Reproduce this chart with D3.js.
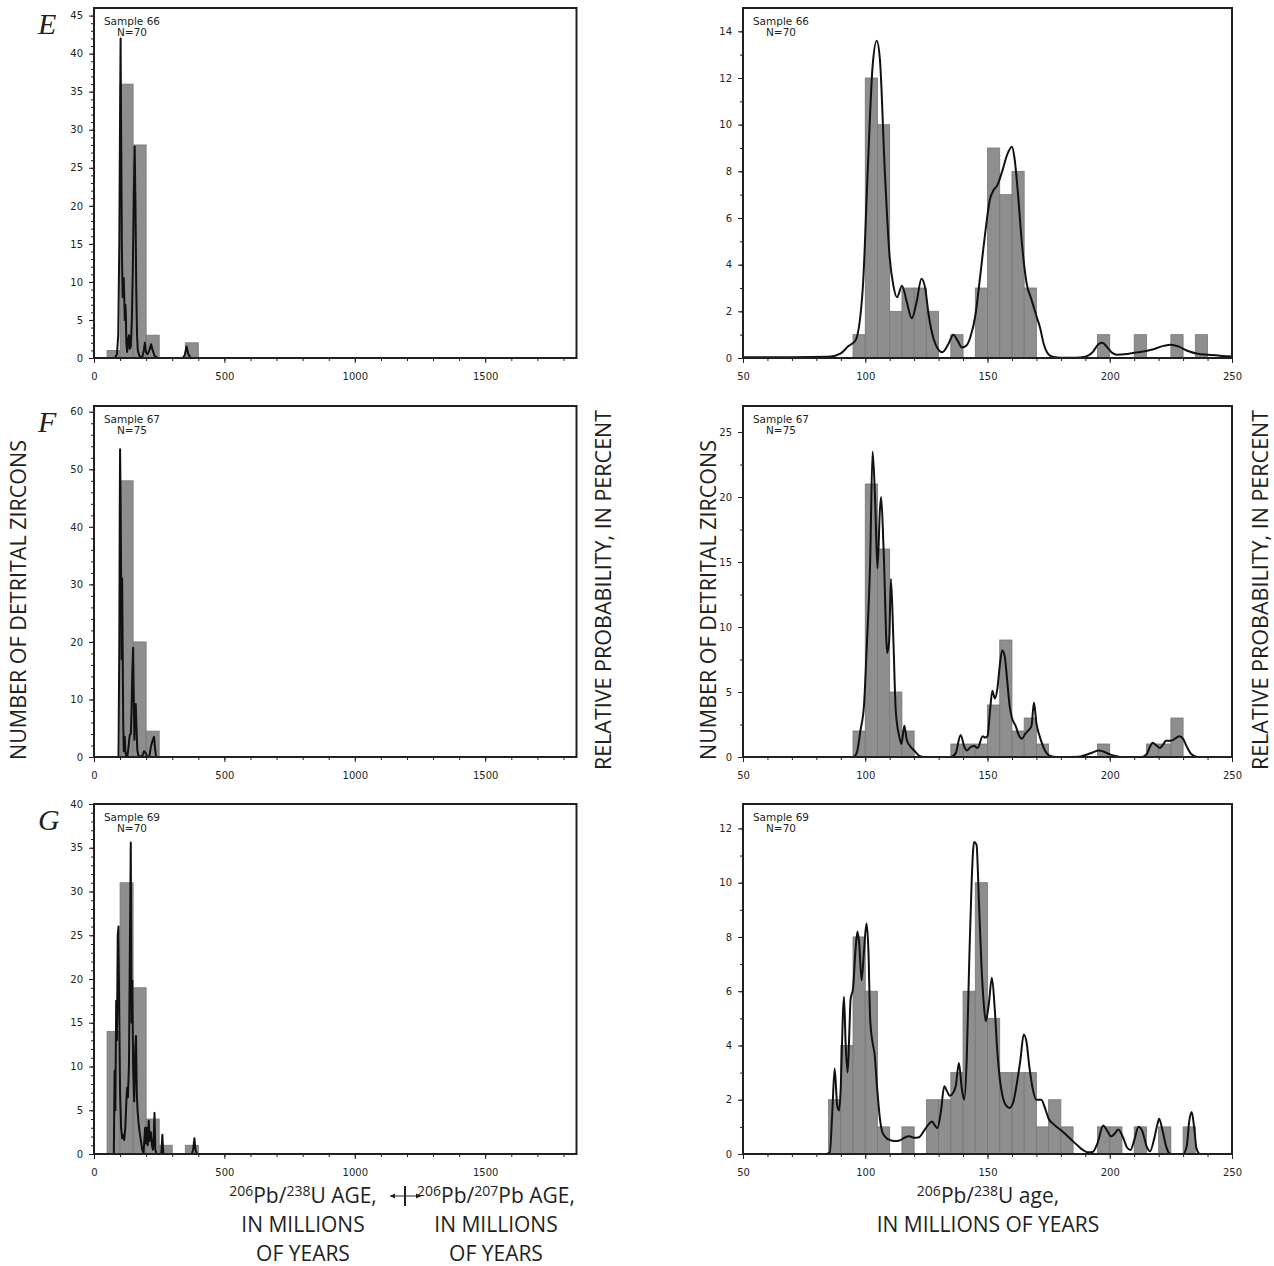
<!DOCTYPE html>
<html>
<head>
<meta charset="utf-8">
<script src="https://cdn.jsdelivr.net/npm/d3@7"></script>
<style>
  body { margin: 0; background: #fff; }
  svg { display: block; }
  .tick text { font-family: "DejaVu Sans", sans-serif; font-size: 10px; fill: #231f20; }
  .tick line { stroke: #231f20; }
  .title { font-family: "Open Sans", sans-serif; fill: #231f20; }
</style>
</head>
<body>
<svg id="chart" width="1274" height="1266"></svg>
<script>
// ---- labels ----
const panelLetters = ['E', 'F', 'G'];
const sampleNames = ['Sample 66', 'Sample 67', 'Sample 69'];
const sampleCounts = ['N=70', 'N=75', 'N=70'];

// ---- left column: 0-1850 Ma, 50 Myr bins ----
const leftBinWidth = 50;
const leftBinStartsE = [50, 100, 150, 200, 350];
const leftCountsE = [1, 36, 28, 3, 2];
const leftBinStartsF = [100, 150, 200];
const leftCountsF = [48, 20, 4.5];
const leftBinStartsG = [50, 100, 150, 200, 250, 350];
const leftCountsG = [14, 31, 19, 4, 1, 1];

// probability curves (age, value on the count axis)
const leftCurveE = [[0,0],[80,0],[88,0.5],[93,3],[97,15],[100,32],[102,42],[104,30],[107,14],[110,8],[112,9.5],[114,10.5],[116,8],[118,5],[120,7],[122,6],[124,2],[127,0.8],[131,2.5],[134,3],[137,1.2],[141,1.5],[145,5],[149,12],[153,22],[156,27.8],[159,20],[162,9],[165,3],[168,1],[175,0.2],[185,0.1],[191,1],[195,2],[199,0.8],[205,0.5],[212,1],[219,1.8],[225,1],[232,0.3],[245,0],[340,0],[348,0.4],[355,1.5],[361,0.6],[370,0],[1850,0]];
const leftCurveF = [[0,0],[94,0],[97,20],[99,45],[100,53.5],[102,45],[104,31],[106,17],[108,31],[110,18],[112,6],[114,1],[116,2.5],[118,3.5],[120,1],[123,0.3],[128,0.1],[133,2],[137,3.8],[141,4],[144,8],[147,15],[150,19],[152,12],[155,3],[157,9],[160,9.2],[163,5],[166,1.2],[170,0.3],[178,0],[186,0.3],[192,1],[197,0.8],[203,0.1],[212,0],[217,1.5],[222,2.5],[226,3],[230,3.5],[234,1.5],[238,0],[1850,0]];
const leftCurveG = [[0,0],[76,0],[79,9.5],[82,5],[85,17.5],[88,13],[91,25],[94,26],[97,15],[100,7],[104,3],[108,1.8],[112,2.2],[116,1.6],[120,3],[124,6],[127,7.6],[130,6.5],[134,10],[138,25],[141,35.6],[144,15],[147,19.8],[150,10],[154,6],[158,12],[161,13.5],[164,7],[167,5],[171,3.5],[175,2.5],[180,1.5],[185,0.5],[190,0.1],[196,3],[199,1.2],[203,3],[206,1],[210,3.8],[213,1.5],[218,2.5],[222,1],[226,0.5],[229,2],[232,4.7],[235,0.5],[240,0],[258,0],[262,2.2],[266,0],[375,0],[380,0.5],[385,1.8],[389,0.5],[394,0],[1850,0]];

// ---- right column: 50-250 Ma, 5 Myr bins ----
const rightBinWidth = 5;
const rightBinStartsE = [95,100,105,110,115,120,125,135,145,150,155,160,165,195,210,225,235];
const rightCountsE = [1,12,10,2,3,3,2,1,3,9,7,8,3,1,1,1,1];
const rightBinStartsF = [95,100,105,110,115,135,140,145,150,155,160,165,170,195,215,220,225];
const rightCountsF = [2,21,16,5,2,1,1,1,4,9,2,3,1,1,1,1,3];
const rightBinStartsG = [85,90,95,100,105,115,125,130,135,140,145,150,155,160,165,170,175,180,195,200,210,220,230];
const rightCountsG = [2,4,8,6,1,1,2,2,3,6,10,5,3,3,3,1,2,1,1,1,1,1,1];

const rightCurveE = [[50,0.03],[70,0.03],[85,0.05],[90,0.2],[93,0.5],[96,0.75],[99,3],[101,8],[103,12.5],[104.7,13.6],[106,12.8],[108,8],[110,4.3],[111.5,3.1],[113,2.6],[115,3.1],[117,2.4],[119,1.7],[121,2.4],[123,3.4],[124.5,3],[126,1.8],[128,0.8],[130,0.35],[131.5,0.25],[134,0.6],[136,1],[138,0.7],[139.5,0.45],[141.5,0.55],[143,0.9],[145,1.8],[147,3.5],[149,5.3],[151,6.8],[152.5,7.2],[154,7.4],[156,8],[158,8.7],[160,9.05],[161,8.6],[162.5,7],[164,5],[166,3.2],[168,2.5],[170,1.8],[171.5,1.3],[173,0.6],[175,0.15],[177,0.04],[180,0.01],[186,0.01],[190,0.05],[193,0.25],[195.5,0.6],[197,0.65],[199,0.45],[201,0.22],[203,0.14],[207,0.17],[212,0.25],[217,0.35],[222,0.52],[225,0.57],[228,0.5],[232,0.3],[236,0.18],[240,0.14],[245,0.1],[250,0.06]];
const rightCurveF = [[50,0],[95,0],[96.5,0.3],[98,2],[99.5,4],[100.5,8],[102,15],[103,23.5],[104,20],[105,14.5],[106,19],[106.5,20],[107.5,16],[109,8],[109.8,9],[110.5,13.7],[111.5,9],[112.5,3.5],[114,1.5],[114.8,1],[116,2.4],[117,1.3],[118.5,0.8],[120,0.5],[122,0.1],[124,0],[135,0],[137,0.3],[139,1.7],[140.5,0.8],[141.5,0.5],[143,0.75],[144.5,0.85],[146,0.7],[148,1.6],[149,1.5],[150,1.6],[151,3.5],[152,5.1],[153,4.5],[154,5.2],[155,7],[156,8.2],[157,7.8],[158,6],[159,4],[160,3],[161.5,2.4],[163,1.6],[164,1.4],[165.5,1.8],[167,2.1],[168,2.4],[169,4.2],[170,2.6],[171,1.8],[172,1.2],[173.5,0.5],[175,0.15],[177,0.02],[180,0],[187,0.02],[190,0.15],[193,0.35],[195.5,0.5],[198,0.38],[200,0.2],[203,0.05],[205,0],[213,0],[215,0.2],[216.5,0.8],[217.5,1.1],[219,0.9],[220.5,0.7],[222,1],[223,1.25],[225,1.25],[227,1.45],[228.5,1.6],[230,1.4],[231.5,0.8],[233,0.3],[235,0.05],[237,0],[250,0]];
const rightCurveG = [[50,0],[84,0],[85.5,0.05],[86.5,1.5],[87.5,3.15],[88.5,1.8],[89.3,1.6],[90,2.5],[90.8,5],[91.3,5.8],[92,4],[92.8,3],[93.5,4.5],[94,5.7],[95,6.1],[96,7.5],[96.8,8.2],[97.5,7.8],[98.5,6.4],[99.5,7.5],[100.5,8.5],[101.3,7.5],[102,5],[103,4.1],[103.8,3.7],[104.8,2.5],[106,1.3],[107,0.8],[108.5,0.6],[110,0.52],[112,0.48],[114,0.5],[116,0.6],[118,0.65],[120,0.6],[122,0.62],[124,0.85],[126,1.1],[127.3,1.2],[128.5,1.05],[129.5,0.95],[131,1.6],[132.3,2.5],[133.5,2.3],[134.5,2.15],[135.5,2.2],[137,2.5],[138.3,3.35],[139.5,2.4],[140.5,2],[141.5,3.5],[142.5,7],[143.5,10],[144.5,11.5],[145.5,11.4],[146.5,9.3],[147.5,7],[148.5,5.5],[149.3,4.9],[150.5,5.5],[151.8,6.5],[153,5.3],[154,3.8],[155,2.8],[156,2.2],[157.5,1.8],[159,1.7],[160.5,1.9],[162,2.6],[163.5,3.5],[164.8,4.4],[166,4.1],[167,3.3],[168.5,2.4],[170,2],[172,2],[173.5,1.7],[175,1.3],[177,1.1],[179,0.95],[181,0.8],[184,0.55],[187,0.3],[189,0.15],[191,0.06],[193,0.07],[195,0.4],[197.3,1.05],[199,0.85],[200.5,0.65],[202,0.75],[203.5,0.9],[205.5,0.6],[207,0.25],[208.5,0.15],[210,0.5],[211.8,1],[213.5,0.8],[215,0.3],[216.5,0.1],[218,0.5],[219.5,1.1],[220.2,1.3],[221.5,0.9],[223,0.3],[224.5,0.02],[226,0],[230,0],[231.5,0.3],[232.5,1.2],[233.5,1.55],[234.5,1],[235.5,0.2],[237,0],[250,0]];

// ---- axis ticks ----
const leftXMajor = [0, 500, 1000, 1500];
const rightXMajor = [50, 100, 150, 200, 250];
const leftYMajor = [d3.range(0, 46, 5), d3.range(0, 61, 10), d3.range(0, 41, 5)];
const rightYMajor = [d3.range(0, 15, 2), d3.range(0, 26, 5), d3.range(0, 13, 2)];

const svg = d3.select('#chart');
const ink = '#231f20';

const rowTop = [8, 406, 804];
const rowBottom = [358, 757, 1154];

function zip(starts, counts) {
  return starts.map((s, i) => ({start: s, count: counts[i]}));
}

function drawPanel(p) {
  const g = svg.append('g');
  const x = d3.scaleLinear().domain(p.xDomain).range([p.x0, p.x1]);
  const y = d3.scaleLinear().domain(p.yDomain).range([p.y1, p.y0]);

  g.selectAll('rect.bar').data(p.bins).join('rect')
    .attr('class', 'bar')
    .attr('x', d => x(d.start))
    .attr('width', d => x(d.start + p.binWidth) - x(d.start))
    .attr('y', d => y(d.count))
    .attr('height', d => y(0) - y(d.count))
    .attr('fill', '#8e8e8e')
    .attr('stroke', '#777')
    .attr('stroke-width', 0.8);

  const line = d3.line().x(d => x(d[0])).y(d => y(d[1])).curve(p.curve);
  g.append('path').datum(p.curveData)
    .attr('d', line)
    .attr('fill', 'none')
    .attr('stroke', '#111')
    .attr('stroke-width', 2)
    .attr('stroke-linejoin', 'round');

  // minor + major ticks
  const clean = s => s.select('.domain').remove();
  g.append('g').attr('transform', `translate(${p.x0},0)`)
    .call(d3.axisLeft(y).tickValues(p.yMinor).tickSize(3).tickFormat('')).call(clean);
  g.append('g').attr('transform', `translate(${p.x0},0)`)
    .call(d3.axisLeft(y).tickValues(p.yMajor).tickSize(5).tickPadding(6)).call(clean);
  g.append('g').attr('transform', `translate(0,${p.y1})`)
    .call(d3.axisBottom(x).tickValues(p.xMinor).tickSize(3).tickFormat('')).call(clean);
  g.append('g').attr('transform', `translate(0,${p.y1})`)
    .call(d3.axisBottom(x).tickValues(p.xMajor).tickSize(5).tickPadding(10).tickFormat(d3.format('d'))).call(clean);

  g.append('rect')
    .attr('x', p.x0).attr('y', p.y0)
    .attr('width', p.x1 - p.x0).attr('height', p.y1 - p.y0)
    .attr('fill', 'none').attr('stroke', ink).attr('stroke-width', 2);

  const lx = p.x0 + 38;
  g.append('text').attr('x', lx).attr('y', p.y0 + 17).attr('text-anchor', 'middle')
    .style('font-family', '"DejaVu Sans", sans-serif').style('font-size', '10.5px').attr('fill', ink)
    .text(p.name);
  g.append('text').attr('x', lx).attr('y', p.y0 + 28).attr('text-anchor', 'middle')
    .style('font-family', '"DejaVu Sans", sans-serif').style('font-size', '10.5px').attr('fill', ink)
    .text(p.n);
}

const leftBins = [zip(leftBinStartsE, leftCountsE), zip(leftBinStartsF, leftCountsF), zip(leftBinStartsG, leftCountsG)];
const rightBins = [zip(rightBinStartsE, rightCountsE), zip(rightBinStartsF, rightCountsF), zip(rightBinStartsG, rightCountsG)];
const leftCurves = [leftCurveE, leftCurveF, leftCurveG];
const rightCurves = [rightCurveE, rightCurveF, rightCurveG];
const leftYMax = [46, 61, 40];
const rightYMax = [15, 27, 12.9];
const leftYStep = [1, 2, 1];
const rightYStep = [1, 2.5, 1];

for (let i = 0; i < 3; i++) {
  drawPanel({
    x0: 94, x1: 576.5, y0: rowTop[i], y1: rowBottom[i],
    xDomain: [0, 1850], yDomain: [0, leftYMax[i]],
    bins: leftBins[i], binWidth: leftBinWidth, curveData: leftCurves[i], curve: d3.curveLinear,
    xMajor: leftXMajor, xMinor: d3.range(0, 1851, 100),
    yMajor: leftYMajor[i], yMinor: d3.range(0, leftYMax[i], leftYStep[i]),
    name: sampleNames[i], n: sampleCounts[i]
  });
  drawPanel({
    x0: 743, x1: 1232, y0: rowTop[i], y1: rowBottom[i],
    xDomain: [50, 250], yDomain: [0, rightYMax[i]],
    bins: rightBins[i], binWidth: rightBinWidth, curveData: rightCurves[i], curve: d3.curveMonotoneX,
    xMajor: rightXMajor, xMinor: d3.range(50, 251, 10),
    yMajor: rightYMajor[i], yMinor: d3.range(0, rightYMax[i], rightYStep[i]),
    name: sampleNames[i], n: sampleCounts[i]
  });
  svg.append('text').attr('x', 38).attr('y', rowTop[i] + 26)
    .style('font-family', '"Liberation Serif", serif').style('font-style', 'italic').style('font-size', '30px')
    .attr('fill', ink).text(panelLetters[i]);
}

// vertical axis titles
function vTitle(x, y, str) {
  svg.append('text').attr('class', 'title')
    .attr('transform', `translate(${x},${y}) rotate(-90)`)
    .attr('text-anchor', 'middle').style('font-size', '21.5px').text(str);
}
vTitle(26, 600, 'NUMBER OF DETRITAL ZIRCONS');
vTitle(611, 590, 'RELATIVE PROBABILITY, IN PERCENT');
vTitle(716, 600, 'NUMBER OF DETRITAL ZIRCONS');
vTitle(1268, 590, 'RELATIVE PROBABILITY, IN PERCENT');

// x axis titles with superscripts: parts are [text, isSuperscript]
function isotopeLabel(x, y, parts) {
  const t = svg.append('text').attr('class', 'title').attr('x', x).attr('y', y)
    .attr('text-anchor', 'middle').style('font-size', '21px');
  let raised = false;
  parts.forEach(([s, sup]) => {
    const dy = sup === raised ? 0 : (sup ? -7 : 7);
    t.append('tspan').attr('dy', dy).style('font-size', sup ? '14px' : '21px').text(s);
    raised = sup;
  });
}
function plainLabel(x, y, str) {
  svg.append('text').attr('class', 'title').attr('x', x).attr('y', y)
    .attr('text-anchor', 'middle').style('font-size', '21px').text(str);
}
isotopeLabel(303, 1203, [['206', true], ['Pb/', false], ['238', true], ['U AGE,', false]]);
plainLabel(303, 1232, 'IN MILLIONS');
plainLabel(303, 1261, 'OF YEARS');
isotopeLabel(496, 1203, [['206', true], ['Pb/', false], ['207', true], ['Pb AGE,', false]]);
plainLabel(496, 1232, 'IN MILLIONS');
plainLabel(496, 1261, 'OF YEARS');
isotopeLabel(988, 1203, [['206', true], ['Pb/', false], ['238', true], ['U age,', false]]);
plainLabel(988, 1232, 'IN MILLIONS OF YEARS');

// double arrow marking the change of age method
const arrowY = 1196;
svg.append('line').attr('x1', 390).attr('x2', 421).attr('y1', arrowY).attr('y2', arrowY)
  .attr('stroke', ink).attr('stroke-width', 1);
svg.append('line').attr('x1', 405).attr('x2', 405).attr('y1', arrowY - 10).attr('y2', arrowY + 10)
  .attr('stroke', ink).attr('stroke-width', 2);
svg.append('path').attr('d', `M390,${arrowY} l5,-2.5 l0,5 Z M421,${arrowY} l-5,-2.5 l0,5 Z`).attr('fill', ink);
</script>
</body>
</html>
